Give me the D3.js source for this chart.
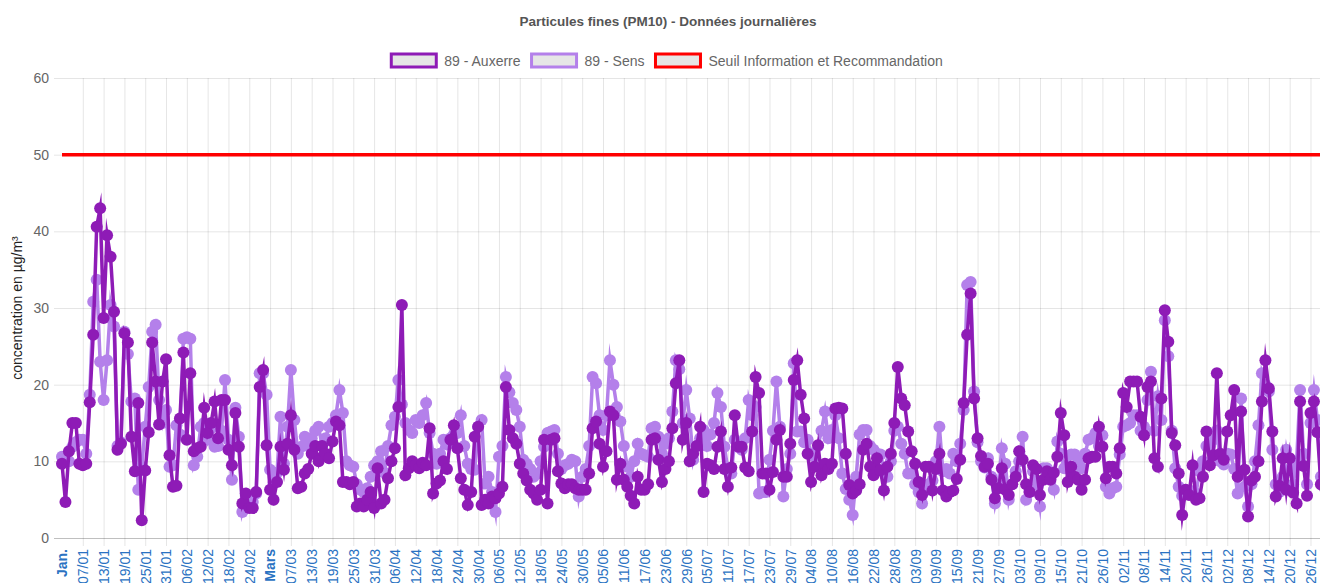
<!DOCTYPE html>
<html>
<head>
<meta charset="utf-8">
<script src="https://cdn.jsdelivr.net/npm/d3@7"></script>
<style>
  body { margin: 0; background: #fff; }
  svg { display: block; font-family: "Liberation Sans", Arial, sans-serif; }
</style>
</head>
<body>
<div id="chart"></div>
<script>
// daily PM10, µg/m³ (01/01 -> 31/12)
var auxerre = [
  9.7, 4.7, 11.3, 15.0, 15.0, 9.7, 9.5, 9.7, 17.7, 26.5,
  40.6, 43.0, 28.7, 39.5, 36.7, 29.5, 11.5, 12.3, 26.7, 25.5,
  13.2, 8.7, 17.6, 2.3, 8.8, 13.8, 25.5, 20.4, 14.8, 20.4,
  23.3, 10.8, 6.7, 6.8, 15.6, 24.2, 12.8, 21.5, 11.3, 11.7,
  11.9, 17.0, 13.7, 15.0, 17.8, 13.0, 18.0, 18.0, 11.5, 9.5,
  16.3, 11.9, 4.5, 5.8, 3.9, 3.9, 6.0, 19.7, 21.9, 12.1,
  6.3, 5.0, 7.3, 11.9, 8.9, 12.3, 16.0, 11.5, 6.5, 6.7,
  8.4, 9.0, 11.0, 12.0, 10.0, 12.0, 11.0, 10.4, 12.6, 15.2,
  14.7, 7.3, 7.3, 7.0, 7.3, 4.1, 4.5, 4.1, 5.0, 6.0,
  3.9, 9.1, 4.5, 5.0, 7.8, 10.0, 11.7, 17.1, 30.4, 8.2,
  9.1, 10.0, 9.5, 9.1, 9.8, 9.5, 14.3, 5.8, 7.1, 7.5,
  10.0, 9.0, 12.8, 14.7, 11.7, 7.8, 6.3, 4.3, 6.0, 13.2,
  14.5, 4.3, 5.0, 4.5, 5.4, 5.2, 5.8, 6.7, 19.7, 14.1,
  13.0, 12.3, 9.7, 8.4, 7.5, 6.3, 5.8, 5.0, 6.3, 12.8,
  4.5, 12.8, 13.0, 8.7, 7.1, 6.5, 7.0, 7.0, 6.5, 6.3,
  6.3, 6.3, 8.4, 14.3, 15.2, 12.3, 9.3, 11.3, 16.5, 16.0,
  7.6, 9.7, 7.6, 6.7, 5.5, 4.5, 8.0, 6.3, 6.3, 7.0,
  12.8, 13.0, 10.2, 7.3, 9.0, 10.0, 14.3, 20.2, 23.2, 12.8,
  15.0, 10.0, 11.0, 12.0, 14.5, 6.0, 9.7, 9.5, 9.0, 11.9,
  13.9, 9.0, 6.7, 9.2, 16.0, 11.9, 11.9, 9.2, 8.7, 13.9,
  21.0, 18.9, 8.4, 8.4, 6.3, 8.6, 12.8, 14.1, 8.0, 8.0,
  12.3, 20.6, 23.2, 18.7, 15.6, 11.0, 7.3, 9.3, 12.1, 8.2,
  9.7, 9.0, 9.7, 16.9, 17.0, 16.9, 11.0, 6.9, 5.8, 6.2,
  7.0, 11.5, 12.3, 9.3, 8.2, 10.4, 8.8, 6.2, 9.3, 11.0,
  15.0, 22.3, 18.2, 17.3, 13.9, 11.3, 9.7, 7.3, 5.6, 9.3,
  9.3, 6.2, 9.0, 11.0, 6.2, 5.4, 6.0, 6.2, 7.7, 10.2,
  17.6, 26.5, 31.9, 18.2, 13.0, 10.7, 9.3, 9.7, 7.6, 5.2,
  6.5, 9.1, 6.3, 5.6, 7.0, 8.0, 11.3, 10.2, 7.0, 6.0,
  9.5, 9.0, 5.6, 7.6, 8.7, 7.6, 8.5, 10.6, 16.3, 13.4,
  7.3, 9.3, 8.0, 7.6, 6.3, 7.6, 10.4, 10.6, 10.6, 14.5,
  11.9, 7.8, 9.3, 9.3, 8.4, 11.7, 18.9, 17.1, 20.4, 20.4,
  20.4, 15.8, 13.4, 19.7, 20.4, 10.4, 9.3, 18.2, 29.7, 25.6,
  13.7, 12.1, 8.4, 3.0, 6.3, 5.6, 9.5, 5.0, 5.2, 8.0,
  13.9, 9.5, 10.8, 21.5, 11.0, 10.2, 13.9, 16.0, 19.3, 8.0,
  16.5, 8.9, 2.8, 7.5, 8.0, 10.0, 17.8, 23.2, 19.5, 13.9,
  5.4, 6.8, 10.4, 6.3, 10.4, 5.9, 4.5, 17.8, 9.4, 5.5,
  16.3, 17.8, 13.8, 7.0, 8.0, 9.0
];

var sens = [
  10.6, 10.0, 10.0, 11.9, 12.5, 12.8, 12.8, 11.0, 18.7, 30.8,
  33.7, 23.0, 18.0, 23.2, 30.4, 27.6, 12.0, 12.5, 26.9, 24.0,
  17.8, 18.2, 6.3, 9.3, 14.5, 19.7, 26.9, 27.8, 18.0, 15.0,
  16.7, 9.3, 9.5, 14.7, 13.5, 26.0, 26.2, 26.0, 9.5, 10.6,
  14.5, 15.0, 12.8, 14.3, 11.9, 12.0, 14.0, 20.6, 12.8, 7.6,
  17.0, 13.2, 3.4, 4.9, 4.9, 4.7, 5.8, 21.5, 21.5, 18.7,
  8.9, 7.2, 8.5, 15.8, 9.7, 14.5, 21.9, 15.4, 11.0, 11.9,
  13.2, 12.0, 13.0, 14.0, 14.5, 12.0, 13.0, 14.5, 15.0, 16.0,
  19.3, 16.3, 10.0, 9.5, 9.3, 7.0, 6.3, 6.0, 6.5, 8.0,
  9.5, 10.0, 11.3, 8.5, 12.0, 14.7, 15.8, 20.6, 17.4, 15.0,
  14.1, 13.7, 15.4, 15.0, 16.0, 17.6, 13.7, 11.0, 9.7, 11.0,
  12.8, 12.2, 13.0, 13.5, 13.7, 16.0, 12.0, 9.7, 9.0, 8.9,
  14.5, 15.4, 7.1, 8.0, 6.0, 3.4, 10.6, 12.0, 21.0, 19.0,
  17.6, 16.7, 14.5, 10.2, 9.7, 9.0, 8.0, 8.4, 10.0, 11.9,
  13.7, 13.9, 14.1, 11.0, 9.0, 9.5, 9.7, 10.2, 10.0, 5.4,
  8.0, 9.0, 12.0, 21.0, 20.2, 16.0, 14.1, 16.0, 23.2, 20.0,
  17.1, 15.2, 12.0, 9.3, 8.0, 10.0, 12.3, 11.0, 10.8, 10.6,
  14.3, 14.5, 13.2, 11.0, 12.3, 13.0, 16.5, 23.2, 22.0, 15.0,
  19.3, 15.6, 10.2, 12.0, 13.0, 14.1, 12.0, 13.5, 15.0, 18.9,
  17.1, 11.9, 9.0, 8.4, 12.8, 12.0, 11.5, 13.0, 18.0, 16.0,
  17.1, 5.8, 6.0, 6.0, 10.2, 14.0, 20.4, 14.5, 5.4, 9.0,
  11.0, 22.8, 13.9, 13.9, 12.5, 12.8, 11.0, 10.6, 12.0, 14.0,
  16.5, 13.0, 14.1, 16.0, 13.0, 8.4, 6.4, 5.0, 3.0, 8.0,
  13.5, 14.1, 14.1, 12.0, 11.5, 11.0, 10.9, 9.0, 8.0, 10.0,
  14.0, 14.5, 12.3, 11.0, 8.4, 8.4, 7.0, 6.0, 4.5, 6.2,
  7.0, 7.5, 10.0, 14.5, 8.7, 9.0, 8.4, 11.0, 10.0, 12.3,
  16.7, 33.0, 33.4, 19.1, 12.5, 10.0, 9.2, 10.4, 8.0, 4.5,
  7.0, 11.7, 9.7, 5.0, 7.0, 8.7, 10.0, 13.2, 5.0, 6.0,
  8.7, 7.0, 4.1, 9.1, 9.1, 8.0, 6.3, 12.6, 11.0, 9.1,
  9.5, 10.9, 10.9, 10.0, 9.1, 11.0, 12.8, 13.0, 13.7, 12.0,
  13.4, 6.7, 5.8, 6.5, 6.7, 10.9, 14.5, 14.7, 15.0, 16.0,
  16.0, 14.0, 14.5, 18.0, 21.7, 14.0, 18.5, 15.4, 28.4, 23.7,
  14.0, 9.1, 6.7, 5.5, 6.3, 6.0, 6.1, 5.8, 8.7, 10.0,
  12.0, 12.0, 12.8, 14.0, 10.0, 9.6, 11.0, 10.9, 9.0, 5.8,
  18.2, 6.7, 4.1, 7.0, 10.0, 14.7, 21.5, 20.0, 19.1, 11.5,
  7.0, 6.0, 8.0, 11.5, 9.0, 7.0, 10.0, 19.3, 11.0, 7.0,
  15.0, 19.3, 15.4, 8.0, 9.0, 10.0
];

var seuil = 50;

var tickLabels = [
  "Jan.", "07/01", "13/01", "19/01", "25/01", "31/01", "06/02", "12/02", "18/02", "24/02",
  "Mars", "07/03", "13/03", "19/03", "25/03", "31/03", "06/04", "12/04", "18/04", "24/04",
  "30/04", "06/05", "12/05", "18/05", "24/05", "30/05", "05/06", "11/06", "17/06", "23/06",
  "29/06", "05/07", "11/07", "17/07", "23/07", "29/07", "04/08", "10/08", "16/08", "22/08",
  "28/08", "03/09", "09/09", "15/09", "21/09", "27/09", "03/10", "09/10", "15/10", "21/10",
  "26/10", "02/11", "08/11", "14/11", "20/11", "26/11", "02/12", "08/12", "14/12", "20/12",
  "26/12"
];
var majorLabels = ["Jan.", "Mars"];
var yTicks = [0, 10, 20, 30, 40, 50, 60];

var seriesNames = ["89 - Auxerre", "89 - Sens", "Seuil Information et Recommandation"];
var seriesColors = ["#8e1bb6", "#b480ea", "#ff0000"];

var width = 1320, height = 583;
// note: "top" is taken by window.top, so prefix these
var plotLeft = 62, plotRight = 62 + 365 * 3.468, plotTop = 78, plotBottom = 538;

var x = d3.scaleLinear().domain([0, 365]).range([plotLeft, plotRight]);
var y = d3.scaleLinear().domain([0, 60]).range([plotBottom, plotTop]);

var svg = d3.select("#chart").append("svg")
    .attr("width", width)
    .attr("height", height);

// title
svg.append("text")
    .attr("x", 668)
    .attr("y", 26)
    .attr("text-anchor", "middle")
    .style("font-size", "13.5px")
    .style("font-weight", "bold")
    .style("fill", "#555")
    .text("Particules fines (PM10) - Données journalières");

// legend, centred like chart.js does
var legend = svg.append("g").attr("class", "legend");
var items = legend.selectAll("g")
    .data(seriesNames)
  .enter().append("g");
items.append("rect")
    .attr("width", 45)
    .attr("height", 13)
    .attr("fill", "#e6e6e6")
    .attr("stroke", function(d, i) { return seriesColors[i]; })
    .attr("stroke-width", 3);
items.append("text")
    .attr("x", 53)
    .attr("y", 11.5)
    .style("font-size", "14px")
    .style("fill", "#666")
    .text(function(d) { return d; });

var widths = [];
items.each(function() {
  widths.push(53 + d3.select(this).select("text").node().getComputedTextLength());
});
var total = d3.sum(widths) + 11 * (widths.length - 1);
var cx = 667 - total / 2;
items.attr("transform", function(d, i) {
  var pos = cx;
  cx += widths[i] + 11;
  return "translate(" + pos + ",54)";
});

// y grid + labels
var yAxis = d3.axisLeft(y)
    .tickValues(yTicks)
    .tickSize(-(plotRight - 54))
    .tickPadding(5)
    .tickFormat(d3.format("d"));

svg.append("g")
    .attr("transform", "translate(54,0)")
    .call(yAxis)
    .call(function(g) { g.select(".domain").remove(); })
    .call(function(g) {
      g.selectAll(".tick line")
        .attr("stroke", function(d) { return d === 0 ? "rgba(0,0,0,0.25)" : "rgba(0,0,0,0.1)"; });
      g.selectAll(".tick text")
        .attr("font-family", null)
        .style("font-size", "14px")
        .style("fill", "#666");
    });

// x grid (each 6 days)
var tickDays = d3.range(0, tickLabels.length * 6, 6);

var xGrid = d3.axisBottom(x)
    .tickValues(tickDays.slice(1))
    .tickSize(-(plotBottom - plotTop + 8))
    .tickFormat("");

svg.append("g")
    .attr("transform", "translate(0," + (plotBottom + 8) + ")")
    .call(xGrid)
    .call(function(g) { g.select(".domain").remove(); })
    .call(function(g) { g.selectAll(".tick line").attr("stroke", "rgba(0,0,0,0.1)"); });

var xAxis = d3.axisBottom(x)
    .tickValues(tickDays)
    .tickSize(0)
    .tickFormat(function(d, i) { return tickLabels[i]; });

svg.append("g")
    .attr("transform", "translate(0," + (plotBottom + 11) + ")")
    .call(xAxis)
    .call(function(g) { g.select(".domain").remove(); })
    .call(function(g) {
      g.selectAll(".tick text")
        .attr("font-family", null)
        .attr("transform", "rotate(-90)")
        .attr("text-anchor", "end")
        .attr("x", 0)
        .attr("y", 0)
        .attr("dy", "0.35em")
        .style("font-size", "14px")
        .style("fill", "#2a72c2")
        .style("font-weight", function(d, i) { return majorLabels.indexOf(tickLabels[i]) >= 0 ? "bold" : "normal"; });
    });

// y title
svg.append("text")
    .attr("transform", "translate(22,308) rotate(-90)")
    .attr("text-anchor", "middle")
    .style("font-size", "14px")
    .style("fill", "#222")
    .text("concentration en µg/m³");

// plot
var plot = svg.append("g");

plot.append("line")
    .attr("x1", x(0))
    .attr("x2", x(365))
    .attr("y1", y(seuil))
    .attr("y2", y(seuil))
    .attr("stroke", seriesColors[2])
    .attr("stroke-width", 3.5);

var line = d3.line()
    .x(function(d, i) { return x(i); })
    .y(function(d) { return y(d); });

// chart.js draws the first dataset last (on top)
[[sens, seriesColors[1]], [auxerre, seriesColors[0]]].forEach(function(s) {
  plot.append("path")
      .datum(s[0])
      .attr("d", line)
      .attr("fill", "none")
      .attr("stroke", s[1])
      .attr("stroke-width", 3.5)
      .attr("stroke-linejoin", "miter")
      .attr("stroke-miterlimit", 10);

  plot.append("g")
    .selectAll("circle")
      .data(s[0])
    .enter().append("circle")
      .attr("cx", function(d, i) { return x(i); })
      .attr("cy", function(d) { return y(d); })
      .attr("r", 6)
      .attr("fill", s[1]);
});
</script>
</body>
</html>
